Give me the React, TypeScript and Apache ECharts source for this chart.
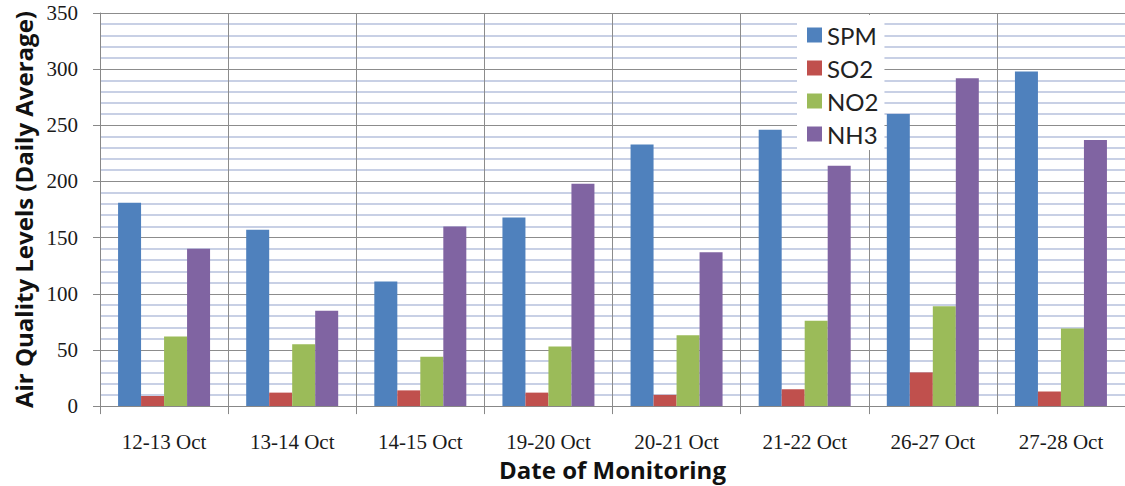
import React, { useEffect, useRef } from "react";
import * as echarts from "echarts";

const categories = [
  "12-13 Oct",
  "13-14 Oct",
  "14-15 Oct",
  "19-20 Oct",
  "20-21 Oct",
  "21-22 Oct",
  "26-27 Oct",
  "27-28 Oct",
];
const spm = [181, 157, 111, 168, 233, 246, 260, 298];
const so2 = [9, 12, 14, 12, 10, 15, 30, 13];
const no2 = [62, 55, 44, 53, 63, 76, 89, 69];
const nh3 = [140, 85, 160, 198, 137, 214, 292, 237];

const seriesNames = ["SPM", "SO2", "NO2", "NH3"];
const seriesColors = ["#4F81BD", "#C0504D", "#9BBB59", "#8064A2"];
const seriesData = [spm, so2, no2, nh3];

const labelFont = "Liberation Serif";
const titleFont = "Open Sans";

export default function App() {
  const ref = useRef<HTMLDivElement>(null);

  useEffect(() => {
    if (!ref.current) return;
    const chart = echarts.init(ref.current, undefined, { renderer: "svg" });
    chart.setOption({
      animation: false,
      backgroundColor: "#ffffff",
      grid: { left: 100, top: 13, width: 1032, height: 395, containLabel: false },
      legend: {
        orient: "vertical",
        left: 797,
        top: 15,
        backgroundColor: "#ffffff",
        padding: [8, 6, 4, 10],
        itemWidth: 15,
        itemHeight: 15,
        itemGap: 9,
        icon: "rect",
        data: seriesNames,
        textStyle: { fontFamily: "Lato", fontSize: 24, lineHeight: 24, color: "#222" },
      },
      xAxis: {
        type: "category",
        data: categories,
        boundaryGap: true,
        axisLine: { show: true, lineStyle: { color: "#888", width: 1 } },
        axisTick: { show: true, length: 8, lineStyle: { color: "#888" } },
        splitLine: { show: true, lineStyle: { color: "#8c8c8c", width: 1 } },
        axisLabel: { fontFamily: labelFont, fontSize: 21, color: "#1a1a1a", margin: 25 },
        name: "Date of Monitoring",
        nameLocation: "middle",
        nameGap: 45,
        nameTextStyle: { fontFamily: titleFont, fontWeight: "bold", fontSize: 24, color: "#111" },
      },
      yAxis: {
        type: "value",
        min: 0,
        max: 350,
        interval: 50,
        axisLine: { show: true, lineStyle: { color: "#888", width: 1 } },
        axisTick: { show: true, length: 7, lineStyle: { color: "#888" } },
        splitLine: { show: true, lineStyle: { color: "#8c8c8c", width: 1 } },
        minorTick: { show: false, splitNumber: 5 },
        minorSplitLine: { show: true, lineStyle: { color: "#b6c1dc", width: 1.6 } },
        axisLabel: { fontFamily: labelFont, fontSize: 21, color: "#1a1a1a", margin: 22 },
        name: "Air Quality Levels (Daily Average)",
        nameLocation: "middle",
        nameGap: 64,
        nameRotate: 90,
        nameTextStyle: { fontFamily: titleFont, fontWeight: "bold", fontSize: 24, color: "#111" },
      },
      series: seriesNames.map((name, i) => ({
        name,
        type: "bar",
        data: seriesData[i],
        barWidth: 23,
        barGap: "0%",
        itemStyle: { color: seriesColors[i] },
      })),
    });
    return () => chart.dispose();
  }, []);

  return (
    <div
      ref={ref}
      style={{ position: "absolute", left: 0, top: 0, width: 1125, height: 486 }}
    />
  );
}
